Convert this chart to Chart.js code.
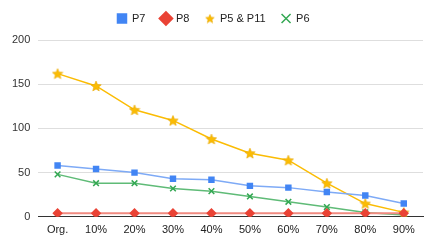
<!DOCTYPE html>
<html>
<head>
<meta charset="utf-8">
<script src="https://cdn.jsdelivr.net/npm/chart.js@4/dist/chart.umd.min.js"></script>
<style>
  html, body { margin: 0; padding: 0; background: #fff; }
  #wrap { width: 436px; height: 246px; }
</style>
</head>
<body>
<div id="wrap"><canvas id="chart" width="436" height="246"></canvas></div>
<script>
var labels = ['Org.', '10%', '20%', '30%', '40%', '50%', '60%', '70%', '80%', '90%'];
var p7 = [58, 54, 50, 43, 42, 35, 33, 28, 24, 15];
var p8 = [4, 4, 4, 4, 4, 4, 4, 4, 4, 4];
var p5p11 = [162, 148, 121, 109, 88, 72, 64, 38, 15, 5];
var p6 = [48, 38, 38, 32, 29, 23, 17, 11, 5, 2];
var yTicks = [0, 50, 100, 150, 200];

function makeStar(size, color) {
    var c = document.createElement('canvas');
    c.width = size; c.height = size;
    var ctx = c.getContext('2d');
    var cx = size / 2, cy = size / 2 + 0.5, ro = size / 2 - 0.5, ri = ro * 0.45;
    ctx.beginPath();
    for (var i = 0; i < 10; i++) {
        var r = i % 2 === 0 ? ro : ri;
        var a = -Math.PI / 2 + i * Math.PI / 5;
        ctx.lineTo(cx + r * Math.cos(a), cy + r * Math.sin(a));
    }
    ctx.closePath();
    ctx.fillStyle = color;
    ctx.fill();
    ctx.strokeStyle = '#e8a800';
    ctx.lineWidth = 0.6;
    ctx.stroke();
    return c;
}

var star = makeStar(12, '#FBBC04');
var starLegend = makeStar(10, '#FBBC04');

new Chart(document.getElementById('chart').getContext('2d'), {
    type: 'line',
    data: {
        labels: labels,
        datasets: [{
            label: 'P7',
            data: p7,
            borderColor: '#7eaaf6',
            backgroundColor: '#4285F4',
            pointBackgroundColor: '#4285F4',
            pointBorderColor: '#4285F4',
            pointStyle: 'rect',
            pointRadius: 3.5,
            borderWidth: 1.5
        }, {
            label: 'P8',
            data: p8,
            borderColor: '#f08a80',
            backgroundColor: '#EA4335',
            pointBackgroundColor: '#EA4335',
            pointBorderColor: '#EA4335',
            pointStyle: 'rectRot',
            pointRadius: 3.8,
            borderWidth: 2
        }, {
            label: 'P5 & P11',
            data: p5p11,
            borderColor: '#FBBC04',
            backgroundColor: '#FBBC04',
            pointStyle: star,
            borderWidth: 1.5
        }, {
            label: 'P6',
            data: p6,
            borderColor: '#5fbb77',
            backgroundColor: '#34A853',
            pointBackgroundColor: '#34A853',
            pointBorderColor: '#34A853',
            pointStyle: 'crossRot',
            pointRadius: 4,
            pointBorderWidth: 1.5,
            borderWidth: 1.5
        }]
    },
    options: {
        responsive: false,
        animation: false,
        layout: { padding: { left: 4, right: 13, top: -3, bottom: 2 } },
        font: { family: 'Liberation Sans, Arial, sans-serif' },
        plugins: {
            legend: {
                position: 'top',
                labels: {
                    usePointStyle: true,
                    boxWidth: 9,
                    boxHeight: 9,
                    padding: 16,
                    color: '#222',
                    font: { family: 'Liberation Sans, Arial, sans-serif', size: 11 },
                    generateLabels: function(chart) {
                        var items = Chart.defaults.plugins.legend.labels.generateLabels(chart);
                        items.forEach(function(it) {
                            if (it.text === 'P5 & P11') it.pointStyle = starLegend;
                        });
                        return items;
                    }
                }
            },
            tooltip: { enabled: false }
        },
        scales: {
            x: {
                offset: true,
                grid: { display: false, drawTicks: false },
                border: { color: '#333', width: 1 },
                ticks: {
                    padding: 7,
                    color: '#222',
                    font: { family: 'Liberation Sans, Arial, sans-serif', size: 11 },
                    maxRotation: 0
                }
            },
            y: {
                min: 0,
                max: 200,
                afterBuildTicks: function(axis) {
                    axis.ticks = yTicks.map(function(v) { return { value: v }; });
                },
                grid: { color: '#dedede', drawTicks: false },
                border: { display: false },
                ticks: {
                    padding: 8,
                    color: '#333',
                    font: { family: 'Liberation Sans, Arial, sans-serif', size: 11 }
                }
            }
        }
    },
    plugins: [{
        id: 'legendGap',
        beforeInit: function(chart) {
            var fit = chart.legend.fit;
            chart.legend.fit = function() {
                fit.bind(chart.legend)();
                this.height += 6;
            };
        }
    }]
});
</script>
</body>
</html>
